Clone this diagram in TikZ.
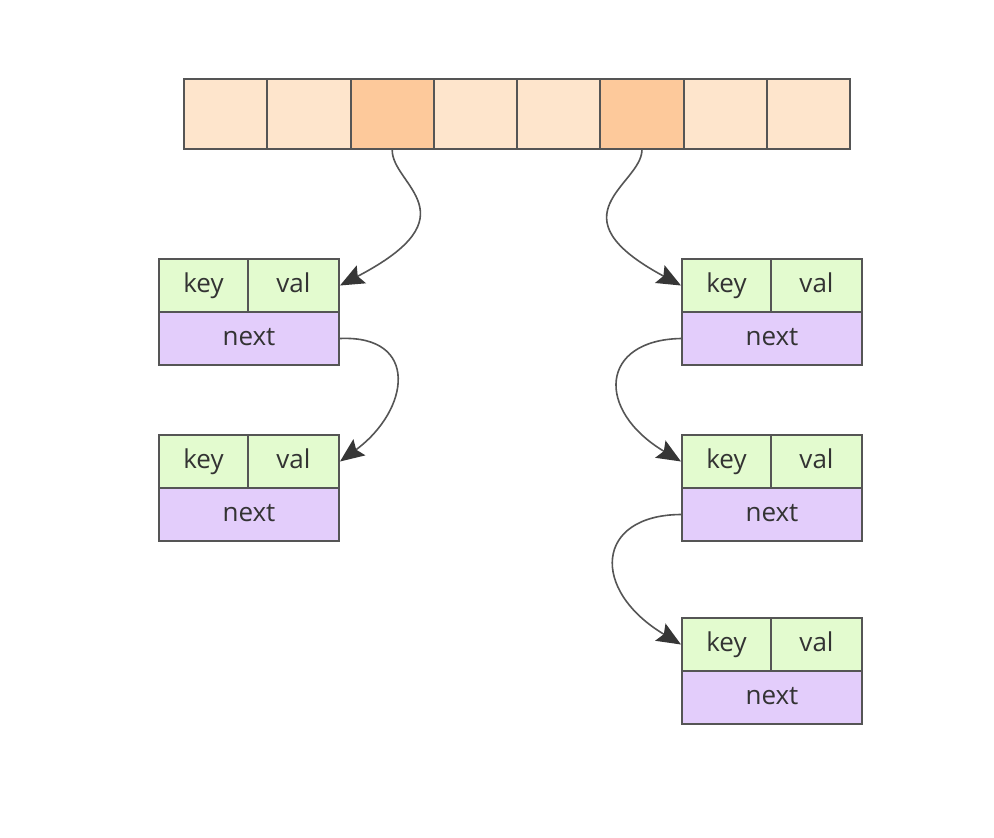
\documentclass[tikz,border=0pt]{standalone}
\usepackage{fontspec}
\setmainfont{Open Sans}
\usetikzlibrary{arrows.meta}
\definecolor{slotc}{HTML}{FEE5CC}
\definecolor{slothot}{HTML}{FDC99B}
\definecolor{kvc}{HTML}{E3FBCF}
\definecolor{nextc}{HTML}{E3CDFB}
\definecolor{edgec}{HTML}{555555}
\definecolor{linkc}{HTML}{555555}
\definecolor{tipc}{HTML}{363636}
\tikzset{
  slot/.style={draw=edgec, line width=2.2pt, fill=slotc, minimum width=83.25pt, minimum height=70pt, inner sep=0pt, anchor=north west},
  hot/.style={slot, fill=slothot},
  cellbox/.style={draw=edgec, line width=2pt, minimum height=53pt, inner sep=0pt, anchor=north west,
    font=\fontsize{26}{30}\selectfont, text=black!80, text height=18pt, text depth=5pt},
  kvbox/.style={cellbox, fill=kvc},
  nextbox/.style={cellbox, fill=nextc},
  link/.style={draw=linkc, line width=1.6pt, -{Stealth[length=24pt,width=20pt,inset=4pt,color=tipc]}}
}
\begin{document}
\begin{tikzpicture}[x=1pt,y=-1pt]
\useasboundingbox (0,0) rectangle (994,838);
\fill[white] (0,0) rectangle (994,838);

% hash table slots
\foreach \i/\st in {0/slot,1/slot,2/hot,3/slot,4/slot,5/hot,6/slot,7/slot}{
  \node[\st] (s\i) at ({183+\i*83.25},78) {};
}

% entry records: key | val over next
\newcommand{\entry}[3]{%
  \node[kvbox, minimum width=89pt] (#1k) at (#2,#3) {key};
  \node[kvbox, minimum width=91pt] (#1v) at (#2+89,#3) {val};
  \node[nextbox, minimum width=180pt] (#1n) at (#2,#3+53) {next};
}
\entry{a}{158}{258}
\entry{b}{158}{434}
\entry{c}{681}{258}
\entry{d}{681}{434}
\entry{e}{681}{617}

% bucket chains
\draw[link] (s2.south) .. controls (392,185) and (475,215) .. (av.east);
\draw[link] (s5.south) .. controls (641,185) and (550,215) .. (ck.west);
\draw[link] (an.east) .. controls (420,335) and (410,410) .. (bv.east);
\draw[link] (cn.west) .. controls (600,340) and (595,410) .. (dk.west);
\draw[link] (dn.west) .. controls (595,515) and (590,590) .. (ek.west);
\end{tikzpicture}
\end{document}
